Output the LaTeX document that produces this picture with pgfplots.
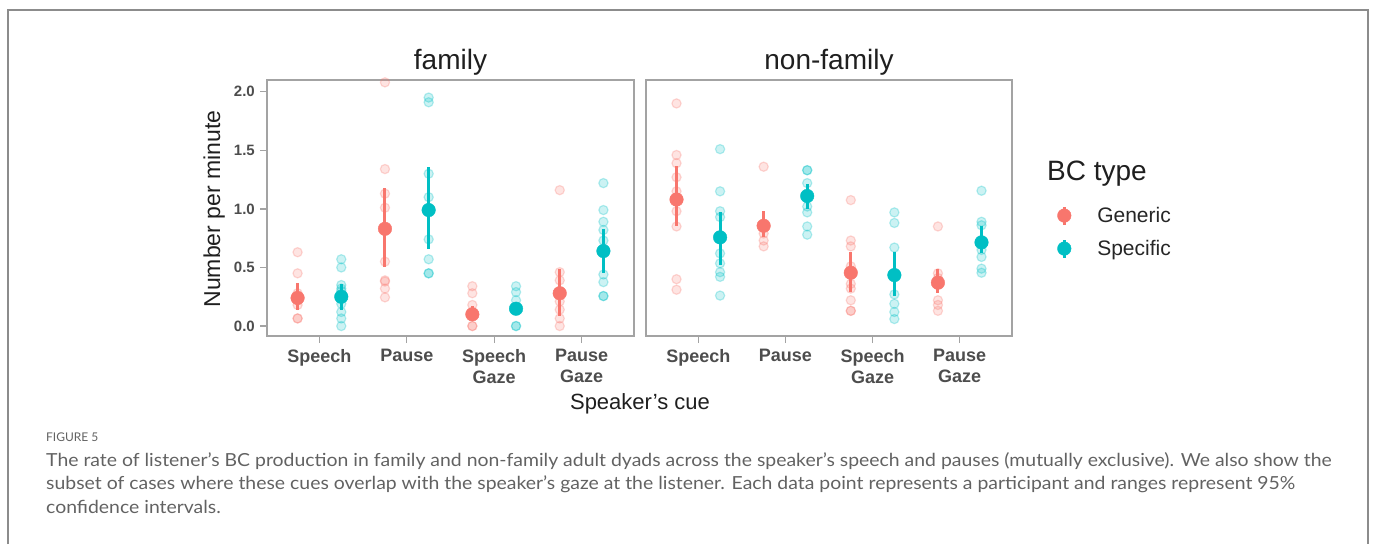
\documentclass[border=0pt]{standalone}
\usepackage{fontspec}
\usepackage{graphicx}
\setmainfont{Liberation Sans}
\newfontfamily\capfont{Lato}
\usepackage{pgfplots}
\pgfplotsset{compat=1.18}
\definecolor{cG}{HTML}{F8766D}
\definecolor{cS}{HTML}{00BFC4}
\definecolor{framegray}{HTML}{8C8C8C}
\definecolor{axgray}{HTML}{A3A3A3}
\definecolor{ticktext}{HTML}{4D4D4D}
\definecolor{captext}{HTML}{626262}
\pgfplotsset{
  panel/.style={
    scale only axis, height=256pt,
    xmin=0.4, xmax=4.6, ymin=-0.085, ymax=2.1,
    axis line style={draw=axgray, line width=1.5pt},
    xtick={1,2,3,4},
    xticklabels={Speech,Pause,{Speech\\Gaze},{Pause\\Gaze}},
    xtick pos=lower, ytick pos=left,
    tick align=outside, major tick length=7pt,
    tick style={draw=axgray, line width=1.3pt},
    xticklabel style={align=center, font=\bfseries\fontsize{18}{21}\selectfont, text=ticktext, inner sep=0pt, anchor=north, yshift=-6pt},
    yticklabel style={font=\bfseries\fontsize{15}{18}\selectfont, text=ticktext, inner sep=0pt, anchor=east, xshift=-5pt},
    ytick={0,0.5,1,1.5,2},
    yticklabels={0.0,0.5,1.0,1.5,2.0},
    title style={at={(axis description cs:0.5,1)}, anchor=base, yshift=5pt, font=\fontsize{28}{32}\selectfont, text=black!88},
  },
  pts/.style={only marks, mark=*, mark size=4.6pt, mark options={fill=#1, draw=#1, fill opacity=0.2, draw opacity=0.28, line width=1.2pt}, forget plot},
  mn/.style={only marks, mark=*, mark size=6.8pt, color=#1, mark options={fill=#1, draw=#1},
    error bars/y dir=both, error bars/y explicit, error bars/error mark=none,
    error bars/error bar style={line width=3pt, color=#1}},
}
\begin{document}
\begin{tikzpicture}
\useasboundingbox (0,0) rectangle (1375pt,-544pt);
\draw[framegray, line width=2pt] (8pt,-544pt) -- (8pt,-10pt) -- (1368pt,-10pt) -- (1368pt,-544pt);

% ---------------- family ----------------
\begin{axis}[panel, at={(267pt,-336pt)}, anchor=south west, width=367pt, title={family}]
\addplot[pts=cG] coordinates {
 (0.75,0.63) (0.75,0.45) (0.75,0.28) (0.75,0.22) (0.75,0.18) (0.75,0.065) (0.75,0.065)
 (1.75,2.08) (1.75,1.34) (1.75,1.13) (1.75,1.01) (1.75,0.55) (1.75,0.39) (1.75,0.38) (1.75,0.32) (1.75,0.245)
 (2.75,0.34) (2.75,0.28) (2.75,0.18) (2.75,0.12) (2.75,0.0) (2.75,0.0)
 (3.75,1.16) (3.75,0.46) (3.75,0.39) (3.75,0.21) (3.75,0.14) (3.75,0.065) (3.75,0.0)
};
\addplot[pts=cS] coordinates {
 (1.25,0.57) (1.25,0.50) (1.25,0.35) (1.25,0.32) (1.25,0.30) (1.25,0.19) (1.25,0.12) (1.25,0.065) (1.25,0.0)
 (2.25,1.95) (2.25,1.91) (2.25,1.30) (2.25,1.10) (2.25,0.74) (2.25,0.57) (2.25,0.45) (2.25,0.45)
 (3.25,0.34) (3.25,0.29) (3.25,0.22) (3.25,0.0) (3.25,0.0)
 (4.25,1.22) (4.25,0.99) (4.25,0.89) (4.25,0.82) (4.25,0.73) (4.25,0.44) (4.25,0.375) (4.25,0.256) (4.25,0.256)
};
\addplot[forget plot, mn=cG] coordinates {
 (0.75,0.24) += (0,0.13) -= (0,0.10)
 (1.75,0.83) += (0,0.35) -= (0,0.33)
 (2.75,0.10) += (0,0.07) -= (0,0.06)
 (3.75,0.28) += (0,0.21) -= (0,0.19)
};
\addplot[forget plot, mn=cS] coordinates {
 (1.25,0.25) += (0,0.11) -= (0,0.11)
 (2.25,0.99) += (0,0.37) -= (0,0.33)
 (3.25,0.148) += (0,0.04) -= (0,0.04)
 (4.25,0.64) += (0,0.19) -= (0,0.19)
};
\end{axis}

% ---------------- non-family ----------------
\begin{axis}[panel, at={(646pt,-336pt)}, anchor=south west, width=366pt, title={non-family}, yticklabels={}, ytick style={draw=none},
  legend cell align=left,
  legend style={at={(axis description cs:1.115,0.52)}, anchor=north west, draw=none, fill=none,
    font=\fontsize{21}{25}\selectfont, text=black!85, row sep=12pt,
    /tikz/every odd column/.append style={column sep=24pt}}]
\addlegendimage{legend image code/.code={\draw[cG, line width=3pt] (0pt,-9pt) -- (0pt,9pt); \fill[cG] (0pt,0pt) circle (6.8pt);}}
\addlegendentry{Generic}
\addlegendimage{legend image code/.code={\draw[cS, line width=3pt] (0pt,-9pt) -- (0pt,9pt); \fill[cS] (0pt,0pt) circle (6.8pt);}}
\addlegendentry{Specific}
\addplot[pts=cG] coordinates {
 (0.75,1.90) (0.75,1.46) (0.75,1.39) (0.75,1.27) (0.75,1.15) (0.75,0.98) (0.75,0.85) (0.75,0.40) (0.75,0.31)
 (1.75,1.36) (1.75,0.79) (1.75,0.73) (1.75,0.68)
 (2.75,1.075) (2.75,0.73) (2.75,0.68) (2.75,0.51) (2.75,0.36) (2.75,0.32) (2.75,0.22) (2.75,0.13) (2.75,0.13)
 (3.75,0.85) (3.75,0.45) (3.75,0.41) (3.75,0.22) (3.75,0.18) (3.75,0.13)
};
\addplot[pts=cS] coordinates {
 (1.25,1.51) (1.25,1.15) (1.25,0.98) (1.25,0.93) (1.25,0.62) (1.25,0.535) (1.25,0.46) (1.25,0.42) (1.25,0.26)
 (2.25,1.33) (2.25,1.33) (2.25,1.22) (2.25,1.02) (2.25,0.97) (2.25,0.85) (2.25,0.78)
 (3.25,0.97) (3.25,0.88) (3.25,0.67) (3.25,0.27) (3.25,0.19) (3.25,0.12) (3.25,0.06)
 (4.25,1.155) (4.25,0.89) (4.25,0.86) (4.25,0.65) (4.25,0.59) (4.25,0.49) (4.25,0.455)
};
\addplot[forget plot, mn=cG] coordinates {
 (0.75,1.08) += (0,0.29) -= (0,0.23)
 (1.75,0.856) += (0,0.124) -= (0,0.096)
 (2.75,0.455) += (0,0.175) -= (0,0.165)
 (3.75,0.37) += (0,0.12) -= (0,0.09)
};
\addplot[forget plot, mn=cS] coordinates {
 (1.25,0.757) += (0,0.213) -= (0,0.237)
 (2.25,1.11) += (0,0.10) -= (0,0.11)
 (3.25,0.435) += (0,0.195) -= (0,0.175)
 (4.25,0.714) += (0,0.136) -= (0,0.094)
};
\end{axis}

% labels
\node[rotate=90, anchor=base, font=\fontsize{23}{27}\selectfont, text=black!88] at (220pt,-209pt) {Number per minute};
\node[anchor=base, font=\fontsize{22}{26}\selectfont, text=black!88] at (640pt,-409pt) {Speaker's cue};
\node[anchor=base west, font=\fontsize{28}{32}\selectfont, text=black!88, inner sep=0pt] at (1047pt,-180pt) {BC type};

% caption
\node[anchor=west, inner sep=0pt, font=\capfont\fontsize{12}{14}\selectfont, text=captext] at (46pt,-437pt) {FIGURE 5};
\node[anchor=west, inner sep=0pt, font=\capfont\fontsize{18}{22}\selectfont, text=captext] at (46pt,-461pt) {\scalebox{1.078}[1]{The rate of listener’s BC production in family and non-family adult dyads across the speaker’s speech and pauses (mutually exclusive). We also show the}};
\node[anchor=west, inner sep=0pt, font=\capfont\fontsize{18}{22}\selectfont, text=captext] at (46pt,-484pt) {\scalebox{1.078}[1]{subset of cases where these cues overlap with the speaker’s gaze at the listener. Each data point represents a participant and ranges represent 95\%}};
\node[anchor=west, inner sep=0pt, font=\capfont\fontsize{18}{22}\selectfont, text=captext] at (46pt,-507pt) {\scalebox{1.078}[1]{confidence intervals.}};
\end{tikzpicture}
\end{document}
